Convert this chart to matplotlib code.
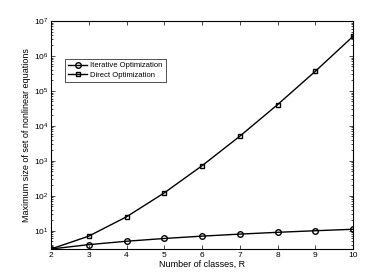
import matplotlib
matplotlib.use("Agg")
import matplotlib.pyplot as plt
from matplotlib.ticker import LogLocator, NullFormatter

R = [2, 3, 4, 5, 6, 7, 8, 9, 10]
iterative = [3, 4, 5, 6, 7, 8, 9, 10, 11]
direct = [3, 7, 25, 121, 721, 5041, 40321, 362881, 3628801]
labels = ["Iterative Optimization", "Direct Optimization"]

plt.rcParams['font.family'] = ['Liberation Sans', 'DejaVu Sans']

fig = plt.figure(figsize=(3.9, 2.8), dpi=100)
ax = fig.add_axes([51/390, 1-249/280, (353-51)/390, (249-21)/280])

ax.plot(R, iterative, color='black', lw=1.0, marker='o', ms=4, mfc='none', mew=1.0, label=labels[0])
ax.plot(R, direct, color='black', lw=1.0, marker='s', ms=3.5, mfc='none', mew=1.0, label=labels[1])

ax.set_yscale('log')
ax.set_ylim(3, 1e7)
ax.set_xlim(2, 10)
ax.set_xticks(R)
ax.yaxis.set_major_locator(LogLocator(base=10, numticks=10))
ax.yaxis.set_minor_locator(LogLocator(base=10, subs=range(2, 10), numticks=20))
ax.yaxis.set_minor_formatter(NullFormatter())
ax.tick_params(which='both', direction='in', top=True, right=True, labelsize=6, width=0.5, pad=2)
ax.tick_params(which='major', length=3)
ax.tick_params(which='minor', length=1.5)
for s in ax.spines.values():
    s.set_linewidth(0.8)

ax.set_xlabel("Number of classes, R", fontsize=6.5, labelpad=1)
ax.set_ylabel("Maximum size of set of nonlinear equations", fontsize=6.5, labelpad=2)

leg = ax.legend(loc='upper left', bbox_to_anchor=((65-51)/302, (249-59)/228), fontsize=5.5,
                frameon=True, fancybox=False, edgecolor='black', borderpad=0.4,
                handlelength=2.5, handletextpad=0.4, labelspacing=0.3, borderaxespad=0)
leg.get_frame().set_linewidth(0.6)

fig.savefig("out.png", dpi=100)
